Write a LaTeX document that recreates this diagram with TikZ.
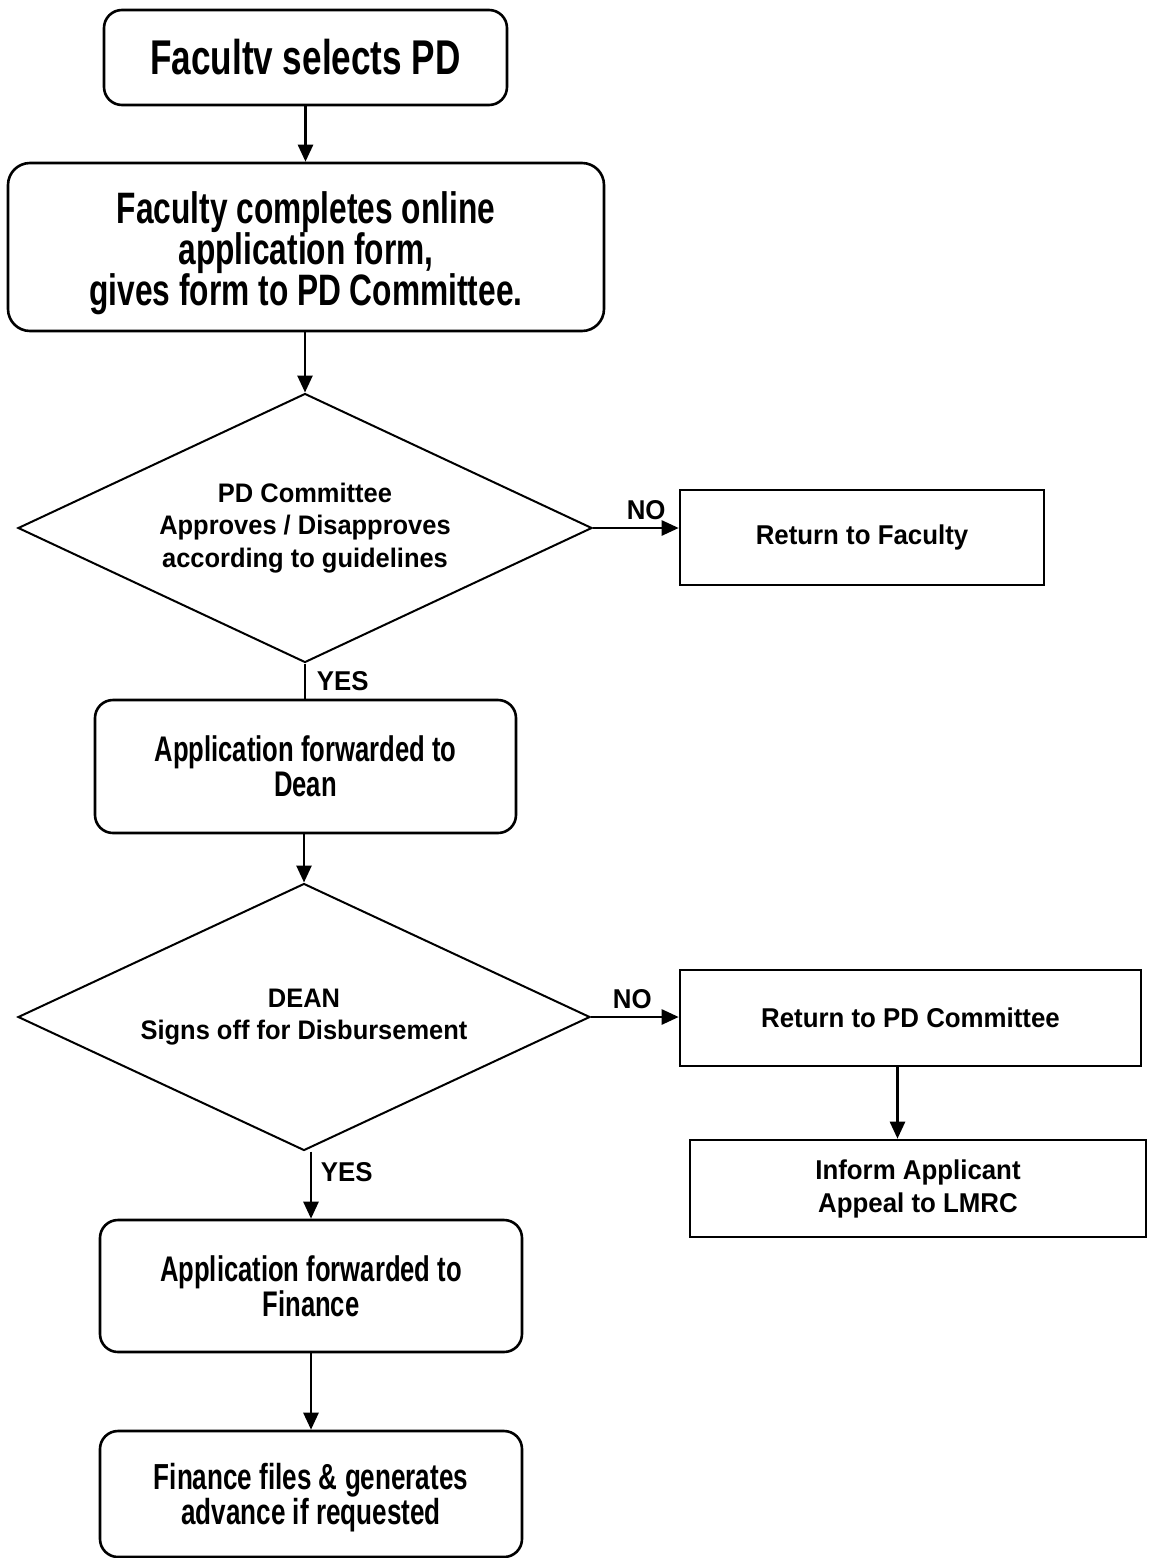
\documentclass[tikz,border=0pt]{standalone}
\usepackage{fontspec}
\usepackage{tikz}
\usetikzlibrary{arrows.meta,calc,positioning,shapes.geometric}
\newfontfamily\condfont{Liberation Sans}[FakeStretch=0.72]
\newfontfamily\plainfont{Liberation Sans}[FakeStretch=0.95]
\tikzset{
  bigbox/.style={draw,line width=1.3pt,rounded corners=9pt,align=center,inner sep=0pt},
  flatbox/.style={draw,line width=1.3pt,align=center,inner sep=0pt,
    font=\plainfont\bfseries\fontsize{13.6}{16.5}\selectfont},
  decide/.style={draw,diamond,shape aspect=2.13,line width=1pt,align=center,inner sep=0pt,
    font=\plainfont\bfseries\fontsize{13.4}{16.3}\selectfont},
  flowarrow/.style={-{Triangle[length=8.5pt,width=7.5pt]},line width=1.3pt},
  answer/.style={font=\plainfont\bfseries\fontsize{13.6}{16}\selectfont}
}

\begin{document}
\begin{tikzpicture}[x=0.5pt,y=-0.5pt]
\useasboundingbox (0,0) rectangle (1149,1558);
\node[bigbox,minimum width=201.5pt,minimum height=47.5pt,
  font=\condfont\bfseries\fontsize{24.4}{28}\selectfont] (select) at (305.5,57.5) {Facultv selects PD};
\node[bigbox,rounded corners=11pt,minimum width=298pt,minimum height=84pt,
  font={\condfont\bfseries\fontsize{22}{20.5}\selectfont\setlength{\lineskiplimit}{-20pt}}] (complete) at (306,247)
  {\rule{0pt}{22pt}Faculty completes online\\application form,\\gives form to PD Committee.};
\node[decide,minimum width=287pt,minimum height=134.5pt] (committee) at (305,528)
  {PD Committee\\Approves / Disapproves\\according to guidelines};
\node[flatbox,minimum width=182pt,minimum height=47.5pt] (retfac) at (862,537.5) {Return to Faculty};
\node[bigbox,minimum width=210.5pt,minimum height=66.5pt,
  font=\condfont\bfseries\fontsize{17.8}{17.3}\selectfont] (todean) at (305.5,766.5)
  {Application forwarded to\\Dean};
\node[decide,minimum width=286pt,minimum height=133.5pt] (dean) at (304,1017)
  {DEAN\\Signs off for Disbursement};
\node[flatbox,minimum width=230.5pt,minimum height=48pt] (retpd) at (910.5,1018) {Return to PD Committee};
\node[flatbox,minimum width=228pt,minimum height=48.5pt] (inform) at (918,1188.5)
  {Inform Applicant\\Appeal to LMRC};
\node[bigbox,minimum width=211pt,minimum height=66pt,
  font=\condfont\bfseries\fontsize{17.8}{17.3}\selectfont] (tofin) at (311,1286)
  {Application forwarded to\\Finance};
\node[bigbox,minimum width=211pt,minimum height=63pt,
  font=\condfont\bfseries\fontsize{18.1}{17.3}\selectfont] (files) at (311,1494)
  {\rule{0pt}{17pt}Finance files \& generates\\advance if requested};

\draw[flowarrow] (select.south) -- (select.south |- complete.north);
\draw[flowarrow] (complete.south -| committee.north) -- (committee.north);
\draw[flowarrow] (committee.east) -- node[answer,pos=0.62,above]{NO} (committee.east -| retfac.west);
\draw[line width=1.3pt] (committee.south) -- node[answer,right,xshift=2pt]{YES} (committee.south |- todean.north);
\draw[flowarrow] (todean.south -| dean.north) -- (dean.north);
\draw[flowarrow] (dean.east) -- node[answer,pos=0.47,above]{NO} (dean.east -| retpd.west);
\draw[flowarrow] ([xshift=-6.5pt]retpd.south) -- ([xshift=-6.5pt]retpd.south |- inform.north);
\draw[flowarrow] (tofin.north |- dean.south) -- node[answer,pos=0.31,right,xshift=1pt]{YES} (tofin.north);
\draw[flowarrow] (tofin.south) -- (files.north);
\end{tikzpicture}
\end{document}
